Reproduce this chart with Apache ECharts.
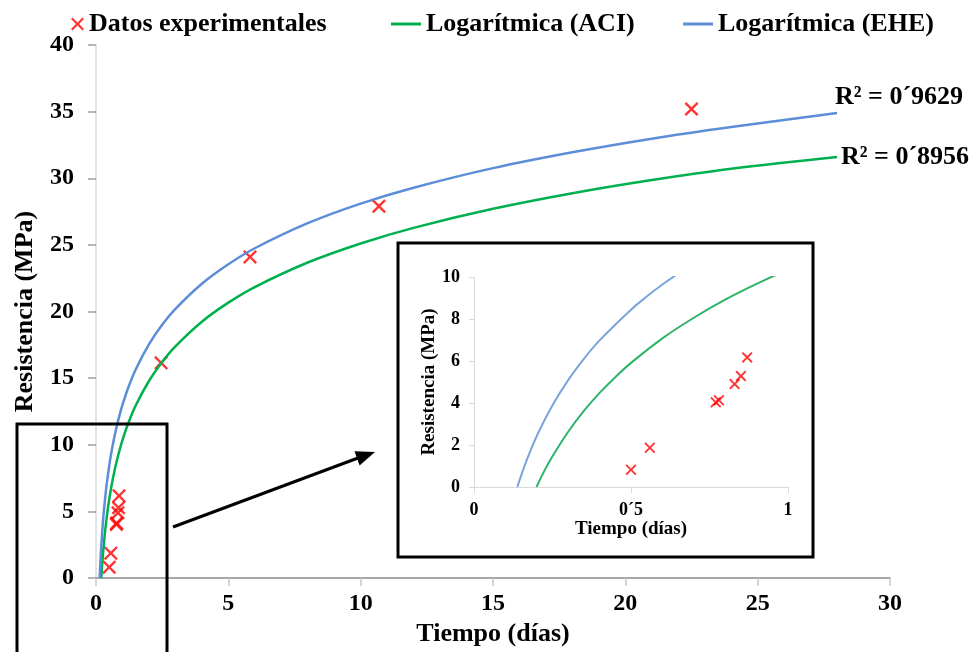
<!DOCTYPE html>
<html>
<head>
<meta charset="utf-8">
<script src="https://cdn.jsdelivr.net/npm/echarts@6/dist/echarts.min.js"></script>
<style>
  html, body { margin: 0; padding: 0; background: #fff; }
  #chart { width: 972px; height: 652px; }
</style>
</head>
<body>
<div id="chart"></div>
<script>
// experimental points (days, MPa)
const pointsX = [0.50, 0.56, 0.77, 0.78, 0.83, 0.85, 0.87, 2.46, 5.82, 10.69, 22.5];
const pointsY = [0.82, 1.87, 4.03, 4.13, 4.90, 5.28, 6.17, 16.15, 24.1, 27.9, 35.2];

// logarithmic trend EHE
const eheX = [0.138, 0.15, 0.17, 0.2, 0.25, 0.3, 0.35, 0.4, 0.5, 0.55, 0.6, 0.65, 0.7, 0.8, 0.9, 1, 1.2, 1.5, 2, 2.5, 3, 4, 5, 6, 8, 10, 12, 15, 18, 21, 24, 28];
const eheY = [0, 0.54, 1.36, 2.43, 3.89, 5.09, 6.10, 6.98, 8.44, 9.07, 9.64, 10.16, 10.65, 11.53, 12.30, 12.99, 14.19, 15.65, 17.54, 19.01, 20.20, 22.09, 23.55, 24.75, 26.63, 28.10, 29.29, 30.76, 31.95, 32.97, 33.84, 34.90];

// logarithmic trend ACI
const aciX = [0.199, 0.22, 0.25, 0.3, 0.35, 0.4, 0.45, 0.5, 0.6, 0.7, 0.8, 0.9, 1, 1.2, 1.5, 2, 2.5, 3, 4, 5, 6, 8, 10, 12, 15, 18, 21, 24, 28];
const aciY = [0, 0.65, 1.46, 2.63, 3.62, 4.48, 5.23, 5.91, 7.08, 8.06, 8.92, 9.67, 10.35, 11.52, 12.95, 14.79, 16.22, 17.39, 19.24, 20.67, 21.84, 23.68, 25.11, 26.28, 27.71, 28.88, 29.87, 30.72, 31.6];

const seriesNames = ['Datos experimentales', 'Logarítmica (ACI)', 'Logarítmica (EHE)'];
const r2Labels = ['R² = 0´9629', 'R² = 0´8956'];
const insetXTickLabels = ['0', '0´5', '1'];

const zip = (xs, ys) => xs.map((x, i) => [x, ys[i]]);
const points = zip(pointsX, pointsY);
const ehe = zip(eheX, eheY);
const aci = zip(aciX, aciY);

const FONT = '"Liberation Serif", "Times New Roman", serif';
const RED = '#ff0000';
const GREEN = '#00b04f';
const BLUE = '#5b8ed7';
const CROSS = 'path://M1.2,0L5,3.8L8.8,0L10,1.2L6.2,5L10,8.8L8.8,10L5,6.2L1.2,10L0,8.8L3.8,5L0,1.2Z';

const chart = echarts.init(document.getElementById('chart'));

const legendText = { fontFamily: FONT, fontWeight: 'bold', fontSize: 26, color: '#000', lineHeight: 28 };

const option = {
  animation: false,
  backgroundColor: '#fff',
  legend: [
    {
      data: [{ name: seriesNames[0], icon: CROSS }],
      left: 66, top: 5, itemWidth: 13, itemHeight: 13,
      textStyle: legendText
    },
    {
      data: [{ name: seriesNames[1], icon: 'rect' }],
      left: 386, top: 5, itemWidth: 30, itemHeight: 3,
      textStyle: legendText
    },
    {
      data: [{ name: seriesNames[2], icon: 'rect' }],
      left: 678, top: 5, itemWidth: 30, itemHeight: 3,
      textStyle: legendText
    }
  ],
  grid: [
    { left: 96, top: 45, width: 794, height: 536 },
    { left: 474, top: 277, width: 314, height: 210 }
  ],
  xAxis: [
    {
      gridIndex: 0, type: 'value', min: 0, max: 30, interval: 5,
      name: 'Tiempo (días)', nameLocation: 'middle', nameGap: 34,
      nameTextStyle: { fontFamily: FONT, fontWeight: 'bold', fontSize: 26, color: '#000' },
      axisLine: { show: true, lineStyle: { color: '#8a8a8a', width: 1.5 } },
      axisTick: { show: true, length: 8, lineStyle: { color: '#c8c8c8', width: 1.5 } },
      axisLabel: { margin: 14, fontFamily: FONT, fontWeight: 'bold', fontSize: 24, color: '#000' },
      splitLine: { show: false }
    },
    {
      gridIndex: 1, type: 'value', min: 0, max: 1, interval: 0.5,
      name: 'Tiempo (días)', nameLocation: 'middle', nameGap: 30,
      nameTextStyle: { fontFamily: FONT, fontWeight: 'bold', fontSize: 19, color: '#000' },
      axisLine: { show: true, lineStyle: { color: '#d9d9d9', width: 1 } },
      axisTick: { show: true, length: 6, lineStyle: { color: '#d9d9d9' } },
      axisLabel: {
        margin: 14, fontFamily: FONT, fontWeight: 'bold', fontSize: 18, color: '#000',
        formatter: v => insetXTickLabels[Math.round(v / 0.5)]
      },
      splitLine: { show: false }
    }
  ],
  yAxis: [
    {
      gridIndex: 0, type: 'value', min: 0, max: 40, interval: 5,
      name: 'Resistencia (MPa)', nameLocation: 'middle', nameGap: 58,
      nameTextStyle: { fontFamily: FONT, fontWeight: 'bold', fontSize: 26, color: '#000' },
      axisLine: { show: true, lineStyle: { color: '#d9d9d9', width: 1.5 } },
      axisTick: { show: true, length: 8, lineStyle: { color: '#a0a0a0', width: 1.5 } },
      axisLabel: { margin: 22, fontFamily: FONT, fontWeight: 'bold', fontSize: 24, color: '#000' },
      splitLine: { show: false }
    },
    {
      gridIndex: 1, type: 'value', min: 0, max: 10, interval: 2,
      name: 'Resistencia (MPa)', nameLocation: 'middle', nameGap: 32,
      nameTextStyle: { fontFamily: FONT, fontWeight: 'bold', fontSize: 19, color: '#000' },
      axisLine: { show: true, lineStyle: { color: '#d9d9d9', width: 1 } },
      axisTick: { show: true, length: 5, lineStyle: { color: '#d9d9d9' } },
      axisLabel: { margin: 14, fontFamily: FONT, fontWeight: 'bold', fontSize: 18, color: '#000' },
      splitLine: { show: false }
    }
  ],
  series: [
    {
      name: seriesNames[1], type: 'line', xAxisIndex: 0, yAxisIndex: 0,
      data: aci, smooth: 0.35, showSymbol: false,
      lineStyle: { color: GREEN, width: 2.5 }, itemStyle: { color: GREEN }
    },
    {
      name: seriesNames[2], type: 'line', xAxisIndex: 0, yAxisIndex: 0,
      data: ehe, smooth: 0.35, showSymbol: false,
      lineStyle: { color: BLUE, width: 2.5 }, itemStyle: { color: BLUE }
    },
    {
      name: seriesNames[0], type: 'scatter', xAxisIndex: 0, yAxisIndex: 0,
      data: points, symbol: CROSS, symbolSize: 14, clip: true,
      itemStyle: { color: RED }
    },
    {
      name: seriesNames[1], type: 'line', xAxisIndex: 1, yAxisIndex: 1,
      data: aci, smooth: 0.35, showSymbol: false, clip: true,
      lineStyle: { color: '#2db36a', width: 2 }, itemStyle: { color: GREEN }
    },
    {
      name: seriesNames[2], type: 'line', xAxisIndex: 1, yAxisIndex: 1,
      data: ehe, smooth: 0.35, showSymbol: false, clip: true,
      lineStyle: { color: '#7ba4da', width: 2 }, itemStyle: { color: BLUE }
    },
    {
      name: seriesNames[0], type: 'scatter', xAxisIndex: 1, yAxisIndex: 1,
      data: points, symbol: CROSS, symbolSize: 11, clip: true,
      itemStyle: { color: RED }
    }
  ],
  graphic: [
    // zoom boxes
    { type: 'rect', shape: { x: 17, y: 424, width: 150, height: 240 },
      style: { fill: 'none', stroke: '#000', lineWidth: 3 }, z: 100 },
    { type: 'rect', shape: { x: 398, y: 243, width: 415, height: 314 },
      style: { fill: 'none', stroke: '#000', lineWidth: 3 }, z: 100 },
    // arrow
    { type: 'line', shape: { x1: 173, y1: 527, x2: 358, y2: 458 },
      style: { stroke: '#000', lineWidth: 3 }, z: 100 },
    { type: 'polygon', shape: { points: [[375, 452], [359.6, 465.5], [354.5, 451.2]] },
      style: { fill: '#000' }, z: 100 },
    // R² labels
    { type: 'text', x: 835, y: 97, z: 100,
      style: { text: r2Labels[0], font: 'bold 26px ' + FONT, fill: '#000', verticalAlign: 'middle' } },
    { type: 'text', x: 841, y: 157, z: 100,
      style: { text: r2Labels[1], font: 'bold 26px ' + FONT, fill: '#000', verticalAlign: 'middle' } }
  ]
};

chart.setOption(option);
</script>
</body>
</html>
